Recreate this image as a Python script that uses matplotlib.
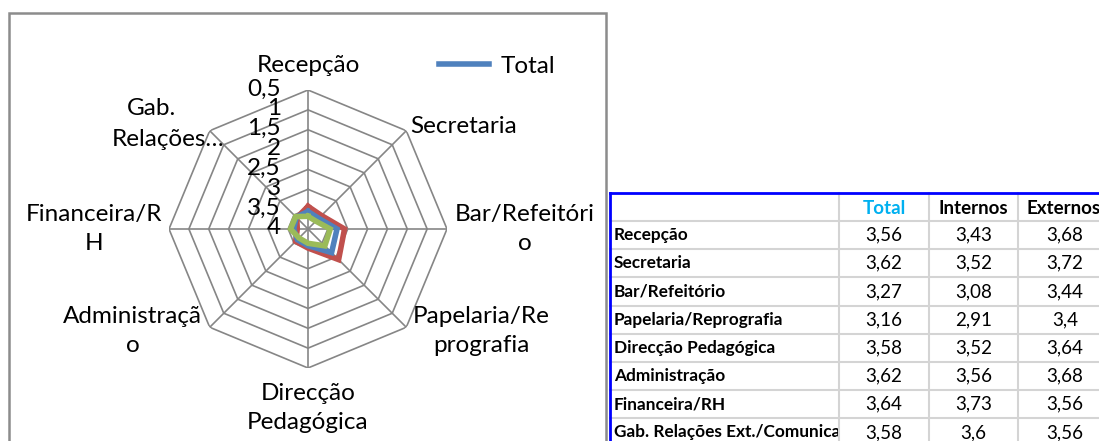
import matplotlib
matplotlib.use("Agg")
import matplotlib.pyplot as plt
import numpy as np
from matplotlib.lines import Line2D
from matplotlib.patches import Rectangle

plt.rcParams['font.family'] = ['Lato', 'DejaVu Sans']

# data
categories = ["Recepção", "Secretaria", "Bar/Refeitório", "Papelaria/Reprografia",
              "Direcção Pedagógica", "Administração", "Financeira/RH",
              "Gab. Relações Ext./Comunicação"]
axis_labels = ["Recepção", "Secretaria", "Bar/Refeitóri\no", "Papelaria/Re\nprografia",
               "Direcção\nPedagógica", "Administraçã\no", "Financeira/R\nH",
               "Gab.\nRelações…"]
total = [3.56, 3.62, 3.27, 3.16, 3.58, 3.62, 3.64, 3.58]
internos = [3.43, 3.52, 3.08, 2.91, 3.52, 3.56, 3.73, 3.60]
externos = [3.68, 3.72, 3.44, 3.40, 3.64, 3.68, 3.56, 3.56]
r_ticks = [0.5, 1, 1.5, 2, 2.5, 3, 3.5, 4]
r_tick_labels = ["0,5", "1", "1,5", "2", "2,5", "3", "3,5", "4"]
table_rows = ["Recepção", "Secretaria", "Bar/Refeitório", "Papelaria/Reprografia",
              "Direcção Pedagógica", "Administração", "Financeira/RH",
              "Gab. Relações Ext./Comunicação"]

W, H = 1099, 441
fig = plt.figure(figsize=(W / 100, H / 100), dpi=100)

def fx(px):
    return px / W

def fy(py):
    return 1 - py / H

# chart area border
fig.patches.append(Rectangle((fx(9), fy(460)), fx(606) - fx(9), fy(13) - fy(460),
                             transform=fig.transFigure, fill=False,
                             edgecolor="#8c8c8c", lw=1.8))

# radar axes
cx, cy, R = 308, 229, 139
ax = fig.add_axes([fx(cx - R), fy(cy + R), 2 * R / W, 2 * R / H], projection="polar")
ax.set_theta_zero_location("N")
ax.set_theta_direction(-1)
ax.set_ylim(4, 0.5)
ax.grid(False)
ax.spines["polar"].set_visible(False)
ax.set_xticks([])
ax.set_yticks([])
ax.patch.set_alpha(0)

n = len(categories)
theta = np.linspace(0, 2 * np.pi, n, endpoint=False)
theta_c = np.append(theta, theta[0])

# polygon grid
for r in r_ticks[:-1]:
    ax.plot(theta_c, [r] * (n + 1), color="#868686", lw=1.2, zorder=1)
for t in theta:
    ax.plot([t, t], [4, 0.5], color="#868686", lw=1.2, zorder=1)

def closed(v):
    return list(v) + [v[0]]

ax.plot(theta_c, closed(internos), color="#C0504D", lw=4, zorder=3, solid_joinstyle="miter")
line_total, = ax.plot(theta_c, closed(total), color="#4F81BD", lw=4, zorder=4,
                      solid_joinstyle="miter")
ax.plot(theta_c, closed(externos), color="#9BBB59", lw=4, zorder=5, solid_joinstyle="miter")

# radial tick labels
for r, lbl in zip(r_ticks, r_tick_labels):
    ax.annotate(lbl, xy=(0, r), xytext=(-27, 1), textcoords="offset pixels",
                ha="right", va="center", fontsize=17.5, annotation_clip=False)

# category labels: (dx, dy, ha) offsets in pixels from outer vertex
offsets = [(0, 25, "center"), (4, 4, "left"), (78, 0, "center"), (75, -4, "center"),
           (0, -40, "center"), (-77, -4, "center"), (-75, 0, "center"), None]
for t, lbl, off in zip(theta, axis_labels, offsets):
    if off is None:
        # wrapped label whose lines are not centred on each other
        for line, (dx, dy) in zip(lbl.split("\n"), [(-58, 22), (-42, -9)]):
            ax.annotate(line, xy=(t, 0.5), xytext=(dx, dy), textcoords="offset pixels",
                        ha="center", va="center", fontsize=17.5, annotation_clip=False)
        continue
    dx, dy, ha = off
    ax.annotate(lbl, xy=(t, 0.5), xytext=(dx, dy), textcoords="offset pixels",
                ha=ha, va="center", multialignment="center", fontsize=17.5,
                linespacing=1.45, annotation_clip=False)

# legend
fig.legend(handles=[line_total], labels=["Total"], loc="center left",
           bbox_to_anchor=(fx(439), fy(66)), frameon=False, fontsize=17.5,
           handlelength=2.05, handletextpad=0.5, borderpad=0, borderaxespad=0)

# table
col_x = [610, 839, 929, 1018, 1120]
row_y = [193, 221] + [221 + 28.2 * (i + 1) for i in range(len(table_rows))]
grid_c = "#d4d4d4"
for x in col_x[1:-1]:
    fig.add_artist(Line2D([fx(x), fx(x)], [fy(193), fy(460)], color=grid_c, lw=1.5))
for y in row_y[1:]:
    fig.add_artist(Line2D([fx(610), fx(1100)], [fy(y), fy(y)], color=grid_c, lw=1.5))
fig.add_artist(Line2D([fx(610), fx(610)], [fy(193), fy(460)], color="#0000ff", lw=2))
fig.add_artist(Line2D([fx(610), fx(1100)], [fy(193), fy(193)], color="#0000ff", lw=2))

headers = ["Total", "Internos", "Externos"]
header_colors = ["#00B0F0", "black", "black"]
for j, (h, c) in enumerate(zip(headers, header_colors)):
    xc = (col_x[j + 1] + col_x[j + 2]) / 2
    if j == 2:
        fig.text(fx(1027), fy(208), h, ha="left", va="center", fontsize=13.5,
                 fontweight="bold", color=c)
    else:
        fig.text(fx(xc), fy(208), h, ha="center", va="center", fontsize=13.5,
                 fontweight="bold", color=c)

def fmt(v):
    return ("%g" % v).replace(".", ",")

first_col_clip = Rectangle((fx(610), 0), fx(838) - fx(610), 1, transform=fig.transFigure,
                           visible=False)
for i, name in enumerate(table_rows):
    yc = (row_y[i + 1] + row_y[i + 2]) / 2
    t = fig.text(fx(614), fy(yc), name, ha="left", va="center", fontsize=12.4,
                 fontweight="bold")
    t.set_clip_path(first_col_clip)
    for j, vals in enumerate([total, internos, externos]):
        xc = (col_x[j + 1] + col_x[j + 2]) / 2 if j < 2 else 1065
        fig.text(fx(xc), fy(yc), fmt(vals[i]), ha="center", va="center", fontsize=13.5)

fig.savefig("out.png", dpi=100)
